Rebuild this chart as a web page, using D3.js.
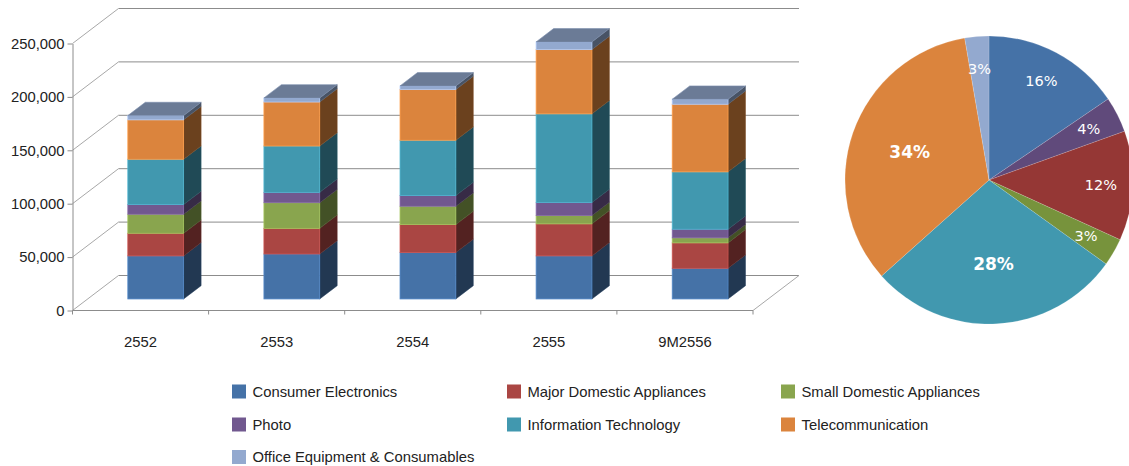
<!DOCTYPE html>
<html>
<head>
<meta charset="utf-8">
<script src="https://cdn.jsdelivr.net/npm/d3@7"></script>
<style>
  body { margin: 0; background: #fff; }
  text { font-family: "Liberation Sans", Arial, sans-serif; }
</style>
</head>
<body>
<svg id="chart" width="1129" height="466"></svg>
<script>
// categories (Thai Buddhist years) and tick labels
var categories = ["2552", "2553", "2554", "2555", "9M2556"];
var yTicks = [0, 50000, 100000, 150000, 200000, 250000];

var seriesNames = ["Consumer Electronics", "Major Domestic Appliances", "Small Domestic Appliances",
  "Photo", "Information Technology", "Telecommunication", "Office Equipment & Consumables"];
var seriesColors = ["#4572A7", "#AA4643", "#89A54E", "#71588F", "#4198AF", "#DB843D", "#93A9CF"];

// stacked values, one array per series, same order as categories
var consumerElectronics = [40300, 42100, 43400, 40300, 28700];
var majorDomestic      = [21200, 24000, 26200, 30000, 23800];
var smallDomestic      = [17800, 24000, 17200, 7800, 4700];
var photo              = [9100, 9700, 10000, 12200, 8100];
var infoTech           = [42400, 43400, 51800, 83000, 53700];
var telecom            = [36900, 41200, 47500, 60200, 63300];
var officeEquip        = [4000, 3800, 3400, 7200, 4700];
var seriesValues = [consumerElectronics, majorDomestic, smallDomestic, photo, infoTech, telecom, officeEquip];

// pie (9M2556 share), clockwise from 12 o'clock
var pieNames  = ["Consumer Electronics", "Photo", "Major Domestic Appliances", "Small Domestic Appliances",
  "Information Technology", "Telecommunication", "Office Equipment & Consumables"];
var pieShares = [15.5, 4.0, 12.3, 3.1, 28.5, 33.9, 2.7];
var pieLabels = ["16%", "4%", "12%", "3%", "28%", "34%", "3%"];
var pieColors = ["#4572A7", "#604A7B", "#953735", "#77933C", "#4198AF", "#DB843D", "#93A9CF"];

var svg = d3.select("#chart");

var frontLeft = 72.5, frontRight = 753, floorY = 310.5, topY = 43.5;
var depth = {x: 46, y: -35};
var barFront = 0.33, barDepth = 0.38;
var gridColor = "#8c8c8c";

var x = d3.scaleBand()
  .domain(categories)
  .range([frontLeft, frontRight])
  .paddingInner(0.59)
  .paddingOuter(0.295);

var y = d3.scaleLinear()
  .domain([0, 250000])
  .range([floorY, topY]);

// back wall gridlines + side wall diagonals
var walls = svg.append("g").attr("stroke", gridColor).attr("stroke-width", 1).attr("fill", "none");
yTicks.forEach(function(t) {
  walls.append("line")
    .attr("x1", frontLeft + depth.x).attr("x2", frontRight + depth.x)
    .attr("y1", y(t) + depth.y).attr("y2", y(t) + depth.y);
  walls.append("line")
    .attr("x1", frontLeft).attr("x2", frontLeft + depth.x)
    .attr("y1", y(t)).attr("y2", y(t) + depth.y)
    .attr("stroke", "#a8a8a8");
});
// floor
walls.append("line")
  .attr("x1", frontLeft).attr("x2", frontRight)
  .attr("y1", floorY).attr("y2", floorY);
walls.append("line")
  .attr("x1", frontRight).attr("x2", frontRight + depth.x)
  .attr("y1", floorY).attr("y2", floorY + depth.y)
  .attr("stroke", "#a8a8a8");

// category boundary ticks
d3.range(categories.length + 1).forEach(function(i) {
  var tx = frontLeft + i * x.step();
  walls.append("line")
    .attr("x1", tx).attr("x2", tx)
    .attr("y1", floorY).attr("y2", floorY + 4);
});

// axes
var leftAxis = d3.axisLeft(y)
  .tickValues(yTicks)
  .tickFormat(d3.format(","))
  .tickSize(5)
  .tickSizeOuter(0)
  .tickPadding(3);

var yAxisG = svg.append("g")
  .attr("transform", "translate(" + frontLeft + ",0)")
  .call(leftAxis);
yAxisG.select(".domain").attr("stroke", gridColor);
yAxisG.selectAll(".tick line").attr("stroke", gridColor);
yAxisG.selectAll("text").attr("fill", "#222").style("font-size", "14.8px")
  .style("font-family", "'Liberation Sans', Arial, sans-serif");

var bottomAxis = d3.axisBottom(x).tickSize(0).tickPadding(26);
var xAxisG = svg.append("g")
  .attr("transform", "translate(0," + floorY + ")")
  .call(bottomAxis);
xAxisG.select(".domain").remove();
xAxisG.selectAll("text").attr("fill", "#222").style("font-size", "14.8px")
  .style("font-family", "'Liberation Sans', Arial, sans-serif");

// stacked 3D bars
var rows = categories.map(function(c, i) {
  var r = {category: c};
  seriesNames.forEach(function(s, j) { r[s] = seriesValues[j][i]; });
  return r;
});
var stacked = d3.stack().keys(seriesNames)(rows);

var fx = barFront * depth.x, fy = barFront * depth.y;
var bx = barDepth * depth.x, by = barDepth * depth.y;
var bw = x.bandwidth();

categories.forEach(function(c, ci) {
  var g = svg.append("g").attr("class", "bar");
  var left = x(c) + fx;
  stacked.forEach(function(layer, li) {
    var seg = layer[ci];
    var col = seriesColors[li];
    var y0 = y(seg[0]) + fy, y1 = y(seg[1]) + fy;
    // side face
    g.append("path")
      .attr("d", "M" + (left + bw) + "," + y1 +
        "L" + (left + bw + bx) + "," + (y1 + by) +
        "L" + (left + bw + bx) + "," + (y0 + by) +
        "L" + (left + bw) + "," + y0 + "Z")
      .attr("fill", d3.color(col).darker(2))
      .attr("stroke", d3.color(col).darker(1.6))
      .attr("stroke-width", 0.5);
    // front face
    g.append("rect")
      .attr("x", left).attr("y", y1)
      .attr("width", bw).attr("height", Math.max(0, y0 - y1))
      .attr("fill", col)
      .attr("stroke", d3.color(col).brighter(0.5))
      .attr("stroke-width", 0.8);
    if (li === stacked.length - 1) {
      g.append("path")
        .attr("d", "M" + left + "," + y1 +
          "L" + (left + bx) + "," + (y1 + by) +
          "L" + (left + bw + bx) + "," + (y1 + by) +
          "L" + (left + bw) + "," + y1 + "Z")
        .attr("fill", d3.color(col).darker(0.9))
        .attr("stroke", d3.color(col).darker(0.5))
        .attr("stroke-width", 0.6);
    }
  });
});

// pie
var pieData = pieNames.map(function(n, i) {
  return {name: n, share: pieShares[i], label: pieLabels[i], color: pieColors[i]};
});
var pie = d3.pie().sort(null).value(function(d) { return d.share; });
var arc = d3.arc().innerRadius(0).outerRadius(144);
var pieG = svg.append("g").attr("transform", "translate(989,180)");

pieG.selectAll("path.slice")
  .data(pie(pieData))
  .enter().append("path")
  .attr("class", "slice")
  .attr("d", arc)
  .attr("fill", function(d) { return d.data.color; })
  .attr("stroke", "#fff")
  .attr("stroke-opacity", 0.25)
  .attr("stroke-width", 0.6);

pieG.selectAll("text.plabel")
  .data(pie(pieData))
  .enter().append("text")
  .attr("class", "plabel")
  .attr("transform", function(d) {
    var r = d.data.share > 20 ? 84 : 112;
    var c = d3.arc().innerRadius(r).outerRadius(r).centroid(d);
    return "translate(" + c[0] + "," + c[1] + ")";
  })
  .attr("text-anchor", "middle")
  .attr("dy", "0.36em")
  .attr("fill", "#fff")
  .style("font-family", "'DejaVu Sans', Verdana, sans-serif")
  .style("font-size", function(d) { return d.data.share > 20 ? "17px" : "14.5px"; })
  .style("font-weight", function(d) { return d.data.share > 20 ? "bold" : "normal"; })
  .text(function(d) { return d.data.label; });

// legend
var legendCols = [232, 507, 781];
var legendRows = [391.5, 424.5, 457];
var legend = svg.append("g").selectAll("g")
  .data(seriesNames)
  .enter().append("g")
  .attr("transform", function(d, i) {
    return "translate(" + legendCols[i % 3] + "," + legendRows[Math.floor(i / 3)] + ")";
  });

legend.append("rect")
  .attr("x", 0).attr("y", -7)
  .attr("width", 14).attr("height", 14)
  .attr("fill", function(d, i) { return seriesColors[i]; });

legend.append("text")
  .attr("x", 20.5)
  .attr("dy", "0.35em")
  .attr("fill", "#222")
  .style("font-size", "14.8px")
  .text(function(d) { return d; });
</script>
</body>
</html>
